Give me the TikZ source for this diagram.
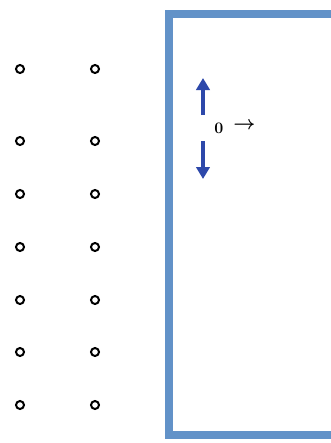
\documentclass[tikz,border=0pt]{standalone}
\usepackage{xcolor}
\usepackage{tikz}
\usetikzlibrary{arrows.meta,positioning}
\definecolor{myframe}{RGB}{98,146,200}
\definecolor{myarrow}{RGB}{45,72,170}

\begin{document}
\begin{tikzpicture}[x=0.75pt, y=-0.75pt]
    \tikzstyle{dot}=[draw, circle, line width=1.5pt, inner sep=0pt, minimum size=6pt]
    \tikzstyle{spin}=[myarrow, line width=3.4pt, -{Triangle[width=10pt,length=9pt]}]
    \useasboundingbox (0,0) rectangle (331,443);
    % two columns of sites
    \foreach \r/\y in {1/69, 2/141, 3/194, 4/247, 5/300, 6/352, 7/405} {
        \node[dot] (a\r) at (20,\y) {};
        \node[dot] (b\r) at (95,\y) {};
    }
    % frame, open on the right
    \draw[myframe, line width=5.5pt] (334,14) -- (169,14) -- (169,435) -- (334,435);
    % spin arrows and label
    \node[font=\large\bfseries, inner sep=1pt] (zero) at (219,128) {0};
    \coordinate (upA) at (203,115);
    \coordinate (upB) at (203,78);
    \coordinate (dnA) at (203,141);
    \coordinate (dnB) at (203,179);
    \draw[spin] (upA) -- (upB);
    \draw[spin] (dnA) -- (dnB);
    \node[font=\Large\boldmath, inner sep=0pt, right=6pt of zero, yshift=2pt] (move) {$\rightarrow$};
\end{tikzpicture}
\end{document}
